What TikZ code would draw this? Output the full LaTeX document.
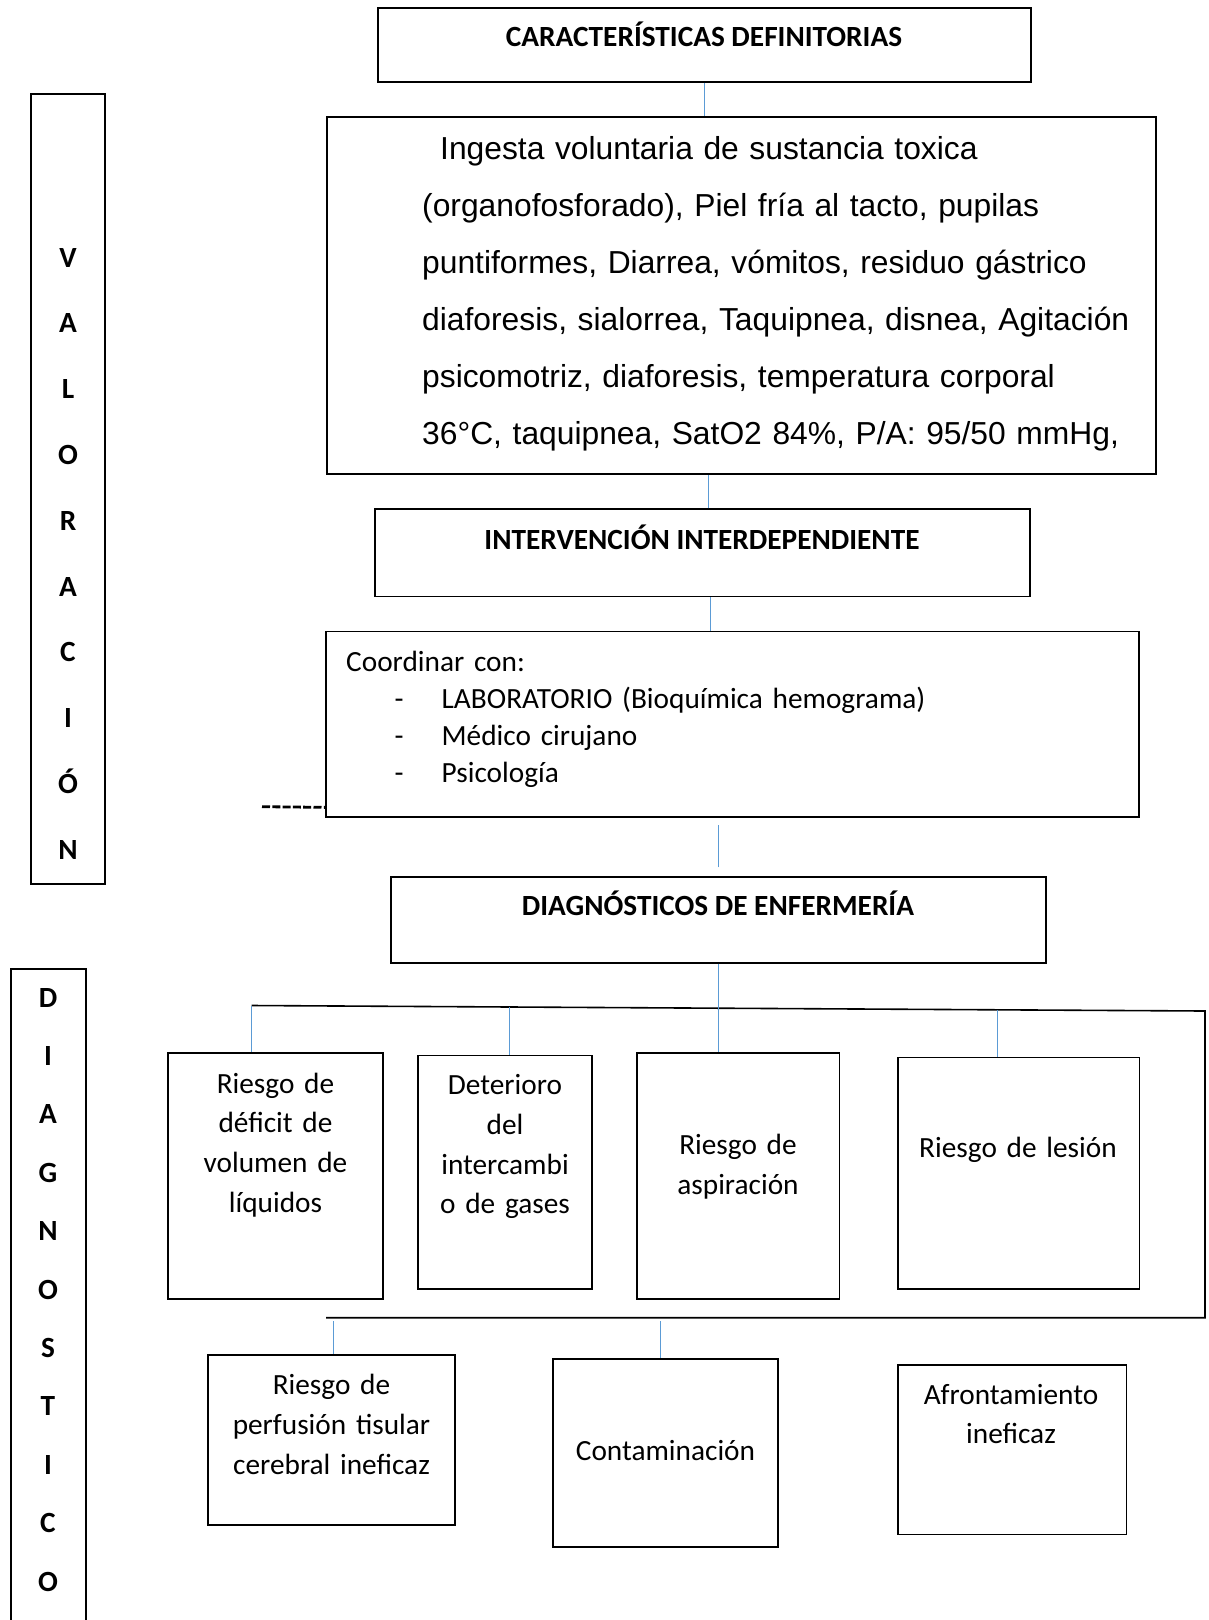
\documentclass[tikz,border=0pt]{standalone}
\usepackage{fontspec}
\setmainfont{Carlito}
\newfontfamily\arialfont{Liberation Sans}
\usetikzlibrary{calc}
\definecolor{azulenlace}{RGB}{91,155,213}

\begin{document}
\begin{tikzpicture}[x=1pt,y=-1pt,
    caja/.style={draw=black,line width=1.3pt,inner sep=0pt},
    titulo/.style={font=\fontsize{29.3}{35}\selectfont\bfseries,anchor=base,inner sep=0pt},
    texto/.style={font=\fontsize{29.3}{39.7}\selectfont,align=center,anchor=base,inner sep=0pt},
    letra/.style={font=\fontsize{29.3}{35}\selectfont\bfseries,anchor=base,inner sep=0pt},
    enlace/.style={draw=azulenlace,line width=1pt},
    corchete/.style={draw=black,line width=1.6pt}]
    \useasboundingbox (0,0) rectangle (1208,1620);

    % columna izquierda
    \node[caja,minimum width=74pt,minimum height=790pt] (val) at (68,489) {};
    \foreach \l [count=\i from 0] in {V,A,L,O,R,A,C,I,Ó,N}
        \node[letra] (val\i) at (68,{267+65.8*\i}) {\l};
    \draw[caja] (11,1622) |- (86,969) -- (86,1622);
    \foreach \l [count=\i from 0] in {D,I,A,G,N,O,S,T,I,C,O}
        \node[letra] (diag\i) at (48,{1007+58.4*\i}) {\l};

    % cajas superiores
    \node[caja,minimum width=653pt,minimum height=74pt] (cd) at (704.5,45) {};
    \node[titulo] (cdt) at (704,46.7) {CARACTERÍSTICAS DEFINITORIAS};
    \node[caja,minimum width=829pt,minimum height=357pt] (ing) at (741.5,295.5) {};
    \node[anchor=base west,inner sep=0pt,text width=760pt,align=left,
          font=\arialfont\fontsize{31.8}{57.1}\selectfont] (sintomas) at (422,159)
        {\hspace*{18pt}Ingesta voluntaria de sustancia toxica\\
         (organofosforado), Piel fría al tacto, pupilas\\
         puntiformes, Diarrea, vómitos, residuo gástrico\\
         diaforesis, sialorrea, Taquipnea, disnea, Agitación\\
         psicomotriz, diaforesis, temperatura corporal\\
         36°C, taquipnea, SatO2 84\%, P/A: 95/50 mmHg,};
    \node[caja,minimum width=655pt,minimum height=87.5pt] (inter) at (702.5,552.75) {};
    \node[titulo] (intert) at (702,549) {INTERVENCIÓN INTERDEPENDIENTE};
    \node[caja,minimum width=813pt,minimum height=185.5pt] (coord) at (732.5,724.25) {};
    \node[anchor=base west,inner sep=0pt,text width=640pt,align=left,
          font=\fontsize{29.3}{37}\selectfont] (lista) at (346,671.7)
        {Coordinar con:\\
         \hspace*{48.5pt}\makebox[47pt][l]{-}LABORATORIO (Bioquímica hemograma)\\
         \hspace*{48.5pt}\makebox[47pt][l]{-}Médico cirujano\\
         \hspace*{48.5pt}\makebox[47pt][l]{-}Psicología};
    \coordinate (guion) at (262,806.7);
    \draw[black,line width=2.8pt,dash pattern=on 8pt off 2.3pt] (guion) -- ([yshift=10.3pt]coord.south west);
    \node[caja,minimum width=655pt,minimum height=86pt] (diagt) at (718.5,920) {};
    \node[titulo] (diagtt) at (718,915) {DIAGNÓSTICOS DE ENFERMERÍA};

    % diagnosticos
    \node[caja,minimum width=215pt,minimum height=246pt] (r1) at (275.5,1176) {};
    \node[texto,text width=200pt] (r1t) at (275.5,1093) {Riesgo de\\déficit de\\volumen de\\líquidos};
    \node[caja,minimum width=174pt,minimum height=233.5pt] (r2) at (505,1172.25) {};
    \node[texto,text width=170pt] (r2t) at (505,1094.7) {Deterioro\\del\\intercambi\\o de gases};
    \node[caja,minimum width=202.5pt,minimum height=246pt] (r3) at (738.25,1176) {};
    \node[texto,text width=190pt] (r3t) at (738,1154.4) {Riesgo de\\aspiración};
    \node[caja,minimum width=241.5pt,minimum height=231.5pt] (r4) at (1018.75,1173.25) {};
    \node[texto,text width=230pt] (r4t) at (1018,1157.8) {Riesgo de lesión};
    \node[caja,minimum width=247pt,minimum height=170pt] (r5) at (331.5,1440) {};
    \node[texto,text width=240pt] (r5t) at (331.5,1394.8) {Riesgo de\\perfusión tisular\\cerebral ineficaz};
    \node[caja,minimum width=225pt,minimum height=188pt] (r6) at (665.5,1453) {};
    \node[texto,text width=220pt] (r6t) at (665.5,1460.8) {Contaminación};
    \node[caja,minimum width=228.5pt,minimum height=169.5pt] (r7) at (1012.25,1449.75) {};
    \node[texto,text width=220pt] (r7t) at (1011,1404) {Afrontamiento\\ineficaz};

    % corchete
    \coordinate (b1) at (251.5,1005.5);
    \coordinate (b2) at (1205,1011);
    \coordinate (b3) at (1205,1317.7);
    \coordinate (b4) at (326,1317.7);
    \draw[corchete] (b1) -- (b2) -- (b3) -- (b4);
    \coordinate (b12) at ($(b1)!0.271!(b2)$);
    \coordinate (b14) at ($(b1)!0.7826!(b2)$);
    \coordinate (c1) at (333,1321);
    \coordinate (c2) at (660.5,1321);

    % enlaces
    \draw[enlace] (cd.south) -- (cd.south |- ing.north);
    \draw[enlace] ([xshift=6pt]inter.north) -- ([xshift=6pt]inter.north |- ing.south);
    \draw[enlace] ([xshift=8pt]inter.south) -- ([xshift=8pt]inter.south |- coord.north);
    \draw[enlace] ([yshift=9pt]diagt.north) -- ([yshift=-7pt]diagt.north |- coord.south);
    \draw[enlace] (diagt.south) -- (diagt.south |- r3.north);
    \draw[enlace] (b1) -- (b1 |- r1.north);
    \draw[enlace] (b12) -- (b12 |- r2.north);
    \draw[enlace] (b14) -- (b14 |- r4.north);
    \draw[enlace] (c1) -- (c1 |- r5.north);
    \draw[enlace] (c2) -- (c2 |- r6.north);
\end{tikzpicture}
\end{document}
